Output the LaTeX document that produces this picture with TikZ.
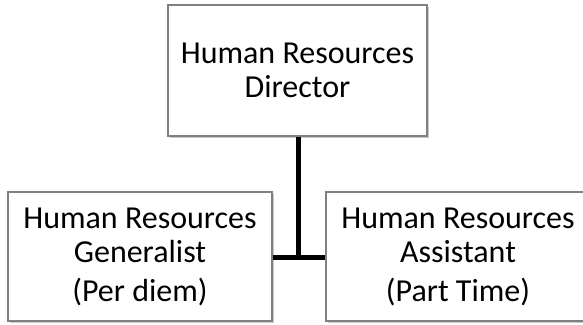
\documentclass[tikz,border=0pt]{standalone}
\usepackage{fontspec}
\setmainfont{Carlito}
\usetikzlibrary{shadows}
\definecolor{boxline}{HTML}{808080}
\tikzset{
  orgbox/.style={draw=boxline, line width=1.3pt, fill=white, inner sep=0pt,
    align=center, font=\fontsize{32}{34}\selectfont,
    drop shadow={shadow xshift=2pt, shadow yshift=-2pt, opacity=0.35, fill=black!60}},
  link/.style={line width=5pt, draw=black}
}
\begin{document}
\begin{tikzpicture}[x=1pt,y=-1pt]
\useasboundingbox (0,0) rectangle (583,324);
\node[orgbox, minimum width=259pt, minimum height=131pt] (dir) at (297.5,70.5)
  {Human Resources\\Director};
\node[orgbox, minimum width=264pt, minimum height=129pt] (gen) at (140,256.5)
  {Human Resources\\Generalist\\[5pt](Per diem)};
\node[orgbox, minimum width=264pt, minimum height=129pt] (asst) at (458,256.5)
  {Human Resources\\Assistant\\[5pt](Part Time)};
\coordinate (j) at (298,257);
\draw[link] (dir.south -| j) -- (j);
\draw[link] (gen.east |- j) -- (asst.west |- j);
\end{tikzpicture}
\end{document}
